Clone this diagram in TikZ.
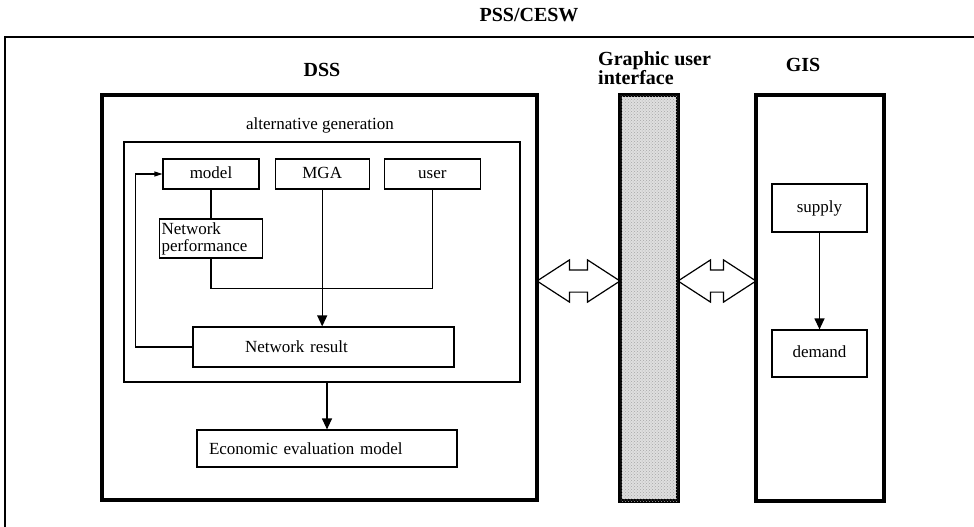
\documentclass[tikz,border=0pt]{standalone}
\usepackage{fontspec}
\setmainfont{Liberation Serif}
\usetikzlibrary{arrows.meta,positioning,shapes.arrows,patterns}

\begin{document}
\begin{tikzpicture}[
    x=1pt, y=-1pt,
    block/.style={draw=black, line width=1.2pt, rectangle, minimum height=30pt, inner sep=2pt, font=\fontsize{17}{17}\selectfont},
    oneline/.style={text height=12pt, text depth=4pt},
    bigbox/.style={draw=black, line width=3.5pt, rectangle, inner sep=0pt, outer sep=0pt},
    title/.style={font=\fontsize{20}{17}\selectfont\bfseries, inner sep=0pt},
    txt/.style={font=\fontsize{17}{17}\selectfont, inner sep=0pt},
    wire/.style={line width=1.2pt},
    arrow/.style={-{Triangle[length=11pt,width=10pt]}, line width=1.2pt},
    fbarrow/.style={-{Triangle[length=8pt,width=5pt]}, line width=1.2pt},
    dblarrow/.style={draw=black, line width=1.2pt, double arrow, double arrow tip angle=66, double arrow head extend=10pt, minimum width=41pt, inner sep=0pt, inner ysep=10.5pt, outer sep=0pt}
]
  \useasboundingbox (0,0) rectangle (974,527);

  % Frame
  \node (pss) [title] at (529,15) {PSS/CESW};
  \draw [line width=1.5pt] (5,527) |- (974,37);

  % DSS
  \node (dss) [bigbox, minimum width=435pt, minimum height=405pt] at (319.5,297.5) {};
  \node (dsslabel) [title] at (322,70) {DSS};
  \node (altlabel) [txt] at (320,125) {alternative generation};
  \node (alt) [draw, line width=1.2pt, minimum width=396pt, minimum height=240pt, inner sep=0pt] at (322,262) {};

  \node (model) [block, oneline, minimum width=96pt] at (211,174) {model};
  \node (mga) [block, oneline, minimum width=94pt, right=15pt of model] {MGA};
  \node (user) [block, oneline, minimum width=96pt, right=14pt of mga] {user};
  \node (netperf) [block, minimum height=39pt, text width=99pt, align=left] at (211,238.5) {Network\\performance};
  \node (netres) [block, minimum height=40pt, text width=157pt, align=left, inner xsep=52pt] at (323.5,347) {Network result};
  \node (econ) [block, minimum height=37pt, text width=236pt, align=left, inner xsep=12pt] at (327,448.5) {Economic evaluation model};

  % GUI
  \node (gui) [bigbox, fill=gray!25, postaction={pattern=crosshatch dots, pattern color=gray!70}, minimum width=58pt, minimum height=406pt] at (649,298) {};
  \node (guilabel) [title, anchor=west, align=left] at (598,68) {Graphic user\\interface};

  % GIS
  \node (gis) [bigbox, minimum width=128pt, minimum height=406pt] at (820,298) {};
  \node (gislabel) [title] at (803,65) {GIS};
  \node (supply) [block, oneline, minimum width=95pt, minimum height=48pt] at (819.5,208) {supply};
  \node (demand) [block, oneline, minimum width=95pt, minimum height=47pt] at (819.5,353.5) {demand};

  % Links
  \node (link1) [dblarrow, minimum height=83pt] at (578.5,281) {};
  \node (link2) [dblarrow, minimum height=78pt] at (717,281) {};

  % Arrows
  \draw [wire] (model) -- (netperf);
  \draw [wire] (netperf.south) -- ++(0,30) -| (user.south);
  \draw [arrow] (mga.south) -- (mga.south |- netres.north);
  \draw [fbarrow] (netres.west) -- ++(-57,0) |- (model.west);
  \draw [arrow] (econ.north |- alt.south) -- (econ.north);
  \draw [arrow] (supply) -- (demand);

\end{tikzpicture}
\end{document}
